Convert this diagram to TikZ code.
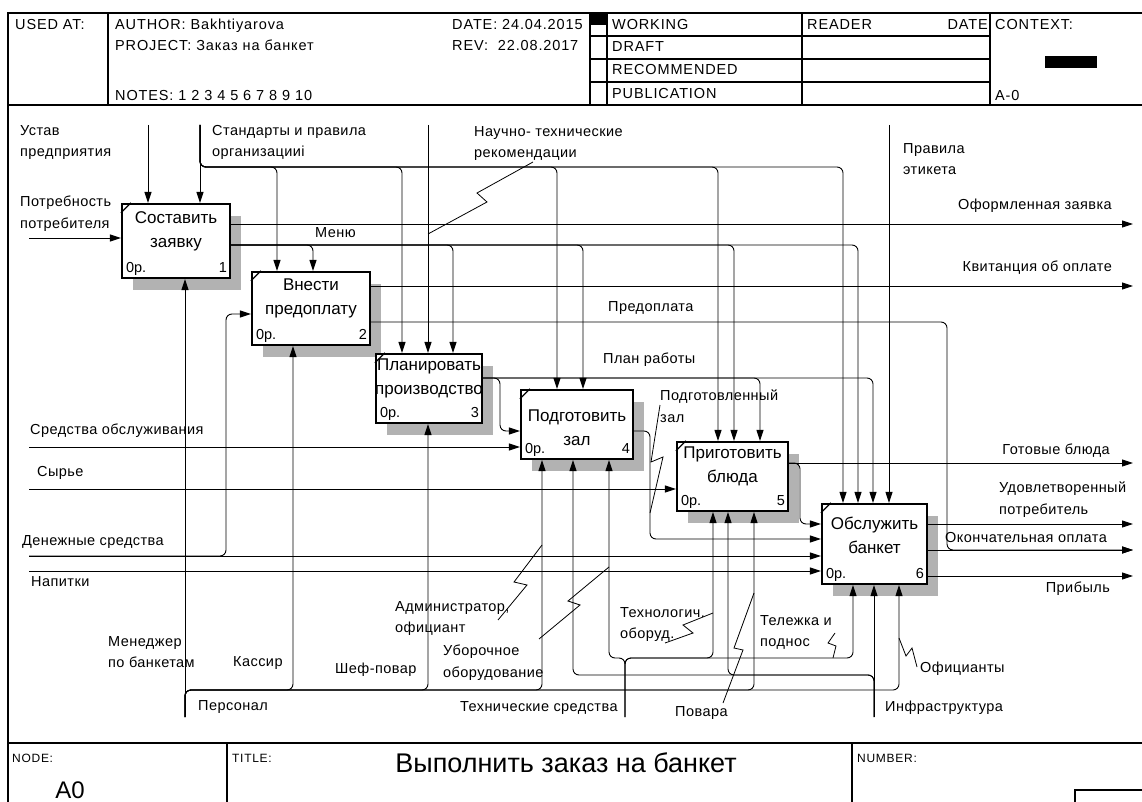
\documentclass[tikz,border=0pt]{standalone}
\usepackage{fontspec}
\setmainfont{Liberation Sans}
\newfontfamily\hdrfont[LetterSpace=6]{Liberation Sans}
\newfontfamily\lblfont[LetterSpace=3]{Liberation Sans}
\usetikzlibrary{
arrows.meta,
calc,
shadows
}
\tikzset{
idefbox/.style={draw=black, line width=2.2pt, fill=white, inner sep=0pt,
  drop shadow={shadow xshift=11pt, shadow yshift=-12pt, opacity=1, fill=black!30}},
idefttl/.style={font=\fontsize{17}{24}\selectfont, align=center, inner sep=0pt},
idefnum/.style={font=\fontsize{14.5}{16}\selectfont, inner sep=0pt},
ideflbl/.style={font=\lblfont\fontsize{14.5}{21.5}\selectfont, align=left, inner sep=0pt},
idefhdr/.style={font=\hdrfont\fontsize{14.5}{16}\selectfont, inner sep=0pt},
idefsmall/.style={font=\hdrfont\fontsize{12}{14}\selectfont, inner sep=0pt},
idefarrow/.style={-{Triangle[length=11pt,width=7pt]}, line width=0.9pt},
idefbranch/.style={idefarrow, rounded corners=6pt},
idefzig/.style={line width=0.8pt},
idefframe/.style={line width=1.3pt}
}

\begin{document}
\begin{tikzpicture}[x=1pt,y=-1pt]
\useasboundingbox (0,0) rectangle (1142,802);

% frame and header
\draw[idefframe] (8,830) -- (8,13) -- (1150,13);
\draw[idefframe] (8,105) -- (1150,105);
\draw[idefframe] (8,743) -- (1150,743);
\foreach \x in {108,590,607,802,990} \draw[idefframe] (\x,13) -- (\x,105);
\foreach \y in {36,59,82} \draw[idefframe] (590,\y) -- (990,\y);
\foreach \x in {227,852} \draw[idefframe] (\x,743) -- (\x,830);

\node[idefhdr, anchor=base west] (usedat) at (15,30) {USED AT:};
\node[idefhdr, anchor=base west] (author) at (115,30) {AUTHOR: Bakhtiyarova};
\node[idefhdr, anchor=base west] (project) at (115,51) {PROJECT: Заказ на банкет};
\node[idefhdr, anchor=base west] (notes) at (115,101) {NOTES: 1 2 3 4 5 6 7 8 9 10};
\node[idefhdr, anchor=base west] (date) at (452,30) {DATE: 24.04.2015};
\node[idefhdr, anchor=base west] (rev) at (452,51) {REV:\ \ 22.08.2017};
\fill (590,13) rectangle (607,25);
\node[idefhdr, anchor=base west] (working) at (612,30) {WORKING};
\node[idefhdr, anchor=base west] (draft) at (612,52) {DRAFT};
\node[idefhdr, anchor=base west] (recommended) at (612,75) {RECOMMENDED};
\node[idefhdr, anchor=base west] (publication) at (612,99) {PUBLICATION};
\node[idefhdr, anchor=base west] (reader) at (807,30) {READER};
\node[idefhdr, anchor=base east] (readerdate) at (988,30) {DATE};
\node[idefhdr, anchor=base west] (context) at (995,30) {CONTEXT:};
\fill (1045,56) rectangle (1097,68);
\node[idefhdr, anchor=base west] (contextnum) at (995,101) {A-0};

% footer
\node[idefsmall, anchor=base west] (nodelbl) at (12,762) {NODE:};
\node[idefsmall, anchor=base west] (titlelbl) at (232,762) {TITLE:};
\node[idefsmall, anchor=base west] (numberlbl) at (857,762) {NUMBER:};
\node[font=\fontsize{27}{30}\selectfont, inner sep=0pt] (title) at (566,763) {Выполнить заказ на банкет};
\node[font=\fontsize{24}{26}\selectfont, inner sep=0pt, anchor=base] (nodenum) at (70,798) {A0};
\draw[idefframe] (1075,790) rectangle (1150,830);

% function boxes
\node[idefbox, minimum width=108pt, minimum height=74pt] (b1) at (176,241) {};
\node[idefbox, minimum width=118pt, minimum height=73pt] (b2) at (311,308.5) {};
\node[idefbox, minimum width=106pt, minimum height=69pt] (b3) at (429,388.5) {};
\node[idefbox, minimum width=112pt, minimum height=69pt] (b4) at (577,424.5) {};
\node[idefbox, minimum width=111pt, minimum height=69pt] (b5) at (732.5,476.5) {};
\node[idefbox, minimum width=105pt, minimum height=80pt] (b6) at (874.5,544) {};

\node[idefttl] (t1) at (176,231) {Составить\\заявку};
\node[idefttl] (t2) at (311,298.5) {Внести\\предоплату};
\node[idefttl] (t3) at (429,378.5) {Планировать\\производство};
\node[idefttl] (t4) at (577,428) {Подготовить\\зал};
\node[idefttl] (t5) at (732.5,466) {Приготовить\\блюда};
\node[idefttl] (t6) at (874.5,535) {Обслужить\\банкет};

\foreach \bx/\n in {b1/1,b2/2,b3/3,b4/4,b5/5,b6/6} {
  \node[idefnum, anchor=base west] (\bx-p) at ($(\bx.south west)+(5,-7)$) {0р.};
  \node[idefnum, anchor=base east] (\bx-n) at ($(\bx.south east)+(-4,-7)$) {\n};
  \draw[line width=1.2pt] ($(\bx.north west)+(0,10)$) -- ($(\bx.north west)+(10,0)$);
}

% arrow tips on the boxes
\coordinate (b1c1) at (148,0 |- b1.north);
\coordinate (b1c2) at (200,0 |- b1.north);
\coordinate (b2c1) at (277,0 |- b2.north);
\coordinate (b2c2) at (313,0 |- b2.north);
\coordinate (b3c1) at (402,0 |- b3.north);
\coordinate (b3c2) at (428,0 |- b3.north);
\coordinate (b3c3) at (453,0 |- b3.north);
\coordinate (b4c1) at (557,0 |- b4.north);
\coordinate (b4c2) at (583,0 |- b4.north);
\coordinate (b5c1) at (718,0 |- b5.north);
\coordinate (b5c2) at (734,0 |- b5.north);
\coordinate (b5c3) at (760,0 |- b5.north);
\coordinate (b6c1) at (843,0 |- b6.north);
\coordinate (b6c2) at (858,0 |- b6.north);
\coordinate (b6c3) at (873,0 |- b6.north);
\coordinate (b6c4) at (889,0 |- b6.north);

\coordinate (b1i1) at (b1.west |- 0,238);
\coordinate (b2i1) at (b2.west |- 0,314);
\coordinate (b4i1) at (b4.west |- 0,431);
\coordinate (b4i2) at (b4.west |- 0,447);
\coordinate (b5i1) at (b5.west |- 0,489);
\coordinate (b6i1) at (b6.west |- 0,524);
\coordinate (b6i2) at (b6.west |- 0,539);
\coordinate (b6i3) at (b6.west |- 0,556);
\coordinate (b6i4) at (b6.west |- 0,571);

\coordinate (b1o1) at (b1.east |- 0,224);
\coordinate (b1o2) at (b1.east |- 0,245);
\coordinate (b2o1) at (b2.east |- 0,286);
\coordinate (b2o2) at (b2.east |- 0,322);
\coordinate (b3o1) at (b3.east |- 0,378);
\coordinate (b4o1) at (b4.east |- 0,431);
\coordinate (b5o1) at (b5.east |- 0,463);
\coordinate (b6o1) at (b6.east |- 0,524);
\coordinate (b6o2) at (b6.east |- 0,550);
\coordinate (b6o3) at (b6.east |- 0,576);

\coordinate (b1m1) at (185,0 |- b1.south);
\coordinate (b2m1) at (293,0 |- b2.south);
\coordinate (b3m1) at (428,0 |- b3.south);
\coordinate (b4m1) at (542,0 |- b4.south);
\coordinate (b4m2) at (573,0 |- b4.south);
\coordinate (b4m3) at (609,0 |- b4.south);
\coordinate (b5m1) at (713,0 |- b5.south);
\coordinate (b5m2) at (728,0 |- b5.south);
\coordinate (b5m3) at (754,0 |- b5.south);
\coordinate (b6m1) at (853,0 |- b6.south);
\coordinate (b6m2) at (874,0 |- b6.south);
\coordinate (b6m3) at (899,0 |- b6.south);

% free ends on the frame
\coordinate (ustav) at (148,125);
\coordinate (std) at (200,125);
\coordinate (nauch) at (428,125);
\coordinate (etik) at (889,125);
\coordinate (potr) at (29,238);
\coordinate (sredobs) at (29,447);
\coordinate (syr) at (29,489);
\coordinate (den) at (29,556);
\coordinate (nap) at (29,571);
\coordinate (oform) at (1133,224);
\coordinate (kvit) at (1133,286);
\coordinate (gotov) at (1133,463);
\coordinate (udov) at (1133,524);
\coordinate (okonch) at (1133,550);
\coordinate (prib) at (1133,576);
\coordinate (pers) at (185,717);
\coordinate (tech) at (625,717);
\coordinate (infra) at (874,717);

% bends and buses
\coordinate (stdbus) at (200,167);
\coordinate (pwbend) at (500,431);
\coordinate (pzbend) at (650,539);
\coordinate (gbbend) at (800,524);
\coordinate (pjoin) at (947,550);
\coordinate (denbend) at (226,314);
\coordinate (persbus) at (185,690);
\coordinate (techbus) at (625,658);
\coordinate (infbus) at (874,675);

% controls
\draw[idefarrow] (ustav) -- (b1c1);
\draw[idefarrow] (std) -- (b1c2);
\foreach \t in {b2c1,b3c1,b4c1,b5c1,b6c1}
  \draw[idefbranch] (std) |- (stdbus -| \t) -- (\t);
\draw[idefarrow] (nauch) -- (b3c2);
\draw[idefarrow] (etik) -- (b6c4);
\foreach \t in {b2c2,b3c3,b4c2,b5c2,b6c2}
  \draw[idefbranch] (b1o2) -| (\t);
\draw[idefbranch] (b3o1) -| (pwbend) -- (b4i1);
\foreach \t in {b5c3,b6c3}
  \draw[idefbranch] (b3o1) -| (\t);

% inputs
\draw[idefarrow] (potr) -- (b1i1);
\draw[idefarrow] (sredobs) -- (b4i2);
\draw[idefarrow] (syr) -- (b5i1);
\draw[idefarrow] (den) -- (b6i3);
\draw[idefbranch] (den) -| (denbend) -- (b2i1);
\draw[idefarrow] (nap) -- (b6i4);
\draw[idefbranch] (b4o1) -| (pzbend) -- (b6i2);
\draw[idefbranch] (b5o1) -| (gbbend) -- (b6i1);

% outputs
\draw[idefarrow] (b1o1) -- (oform);
\draw[idefarrow] (b2o1) -- (kvit);
\draw[idefbranch] (b2o2) -| (pjoin) -- (okonch);
\draw[idefarrow] (b5o1) -- (gotov);
\draw[idefarrow] (b6o1) -- (udov);
\draw[idefarrow] (b6o2) -- (okonch);
\draw[idefarrow] (b6o3) -- (prib);

% mechanisms
\draw[idefarrow] (pers) -- (b1m1);
\foreach \t in {b2m1,b3m1,b4m1,b5m3,b6m3}
  \draw[idefbranch] (pers) |- (persbus -| \t) -- (\t);
\foreach \t in {b4m3,b5m1,b6m1}
  \draw[idefbranch] (tech) |- (techbus -| \t) -- (\t);
\draw[idefarrow] (infra) -- (b6m2);
\foreach \t in {b4m2,b5m2}
  \draw[idefbranch] (infra) |- (infbus -| \t) -- (\t);

% labels
\node[ideflbl, anchor=north west] (lustav) at (20,125) {Устав\\предприятия};
\node[ideflbl, anchor=north west] (lstd) at (212,125) {Стандарты и правила\\организацииi};
\node[ideflbl, anchor=north west] (lnauch) at (474,126) {Научно- технические\\рекомендации};
\node[ideflbl, anchor=north west] (letik) at (903,143) {Правила\\этикета};
\node[ideflbl, anchor=north west] (lpotr) at (20,196) {Потребность\\потребителя};
\node[ideflbl, anchor=base west] (lmenu) at (315,237) {Меню};
\node[ideflbl, anchor=base east] (loform) at (1112,210) {Оформленная заявка};
\node[ideflbl, anchor=base east] (lkvit) at (1112,271) {Квитанция об оплате};
\node[ideflbl, anchor=base west] (lpred) at (608,311) {Предоплата};
\node[ideflbl, anchor=base west] (lplan) at (603,363) {План работы};
\node[ideflbl, anchor=north west] (lpz) at (660,390) {Подготовленный\\зал};
\node[ideflbl, anchor=base west] (lsredobs) at (30,434) {Средства обслуживания};
\node[ideflbl, anchor=base west] (lsyr) at (37,476) {Сырье};
\node[ideflbl, anchor=base east] (lgotov) at (1110,454) {Готовые блюда};
\node[ideflbl, anchor=north west] (ludov) at (999,482) {Удовлетворенный\\потребитель};
\node[ideflbl, anchor=base west] (lokonch) at (945,542) {Окончательная оплата};
\node[ideflbl, anchor=base west] (lden) at (22,545) {Денежные средства};
\node[ideflbl, anchor=base west] (lnap) at (31,586) {Напитки};
\node[ideflbl, anchor=base east] (lprib) at (1110,592) {Прибыль};
\node[ideflbl, anchor=north west] (ladm) at (395,601) {Администратор,\\официант};
\node[ideflbl, anchor=north west] (lmen) at (108,636) {Менеджер\\по банкетам};
\node[ideflbl, anchor=base west] (lkass) at (233,666) {Кассир};
\node[ideflbl, anchor=north west] (ltechn) at (620,607) {Технологич.\\оборуд.};
\node[ideflbl, anchor=north west] (ltel) at (760,615) {Тележка и\\поднос};
\node[ideflbl, anchor=north west] (lubor) at (443,645) {Уборочное\\оборудование};
\node[ideflbl, anchor=base west] (lshef) at (335,673) {Шеф-повар};
\node[ideflbl, anchor=base west] (loff) at (920,672) {Официанты};
\node[ideflbl, anchor=base west] (lpers) at (198,710) {Персонал};
\node[ideflbl, anchor=base west] (ltechs) at (460,711) {Технические средства};
\node[ideflbl, anchor=base west] (lpov) at (675,716) {Повара};
\node[ideflbl, anchor=base west] (linfra) at (885,711) {Инфраструктура};

% label squiggles
\draw[idefzig] (533,162) -- (477,193) -- (487,202) -- (b3c2 |- 0,234);
\draw[idefzig] (660,405) -- (651,462) -- (663,457) -- (pzbend |- 0,513);
\draw[idefzig] (498,620) -- (527,585) -- (514,582) -- (b4m1 |- 0,545);
\draw[idefzig] (539,639) -- (580,605) -- (568,601) -- (b4m3 |- 0,567);
\draw[idefzig] (665,643) -- (693,633) -- (683,625) -- (b5m1 |- 0,613);
\draw[idefzig] (835,633) -- (828,643) -- (836,646) -- (833,0 |- techbus);
\draw[idefzig] (723,703) -- (743,650) -- (734,648) -- (b5m3 |- 0,593);
\draw[idefzig] (917,667) -- (912,648) -- (906,656) -- (b6m3 |- 0,638);
\end{tikzpicture}
\end{document}
